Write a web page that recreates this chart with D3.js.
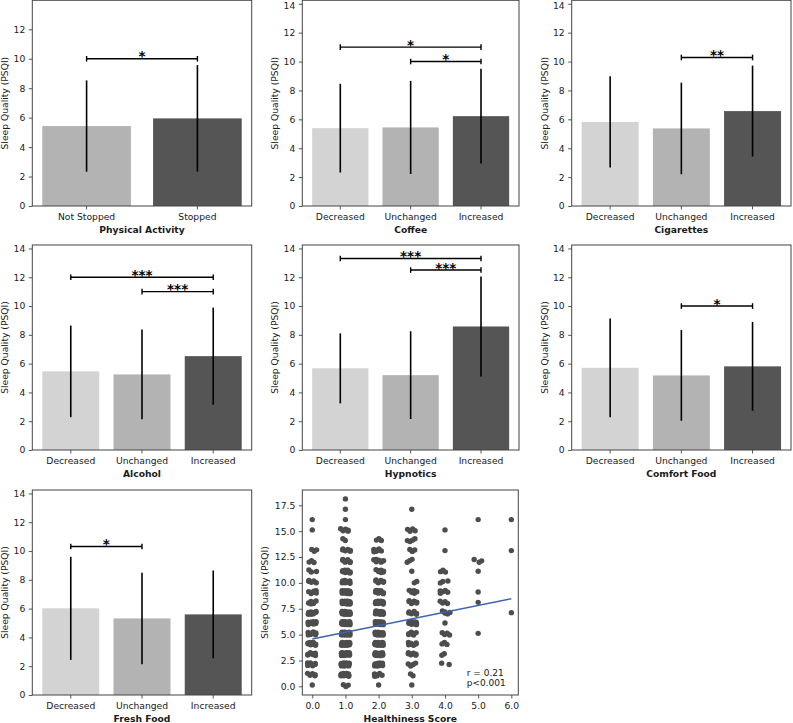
<!DOCTYPE html>
<html><head><meta charset="utf-8">
<script src="https://cdn.jsdelivr.net/npm/d3@7"></script>
<style>body{margin:0;background:#fff} text{font-family:"DejaVu Sans",sans-serif}</style>
</head><body><svg id="c" width="793" height="723"></svg>
<script>
// ---------- data ----------
const catsActivity = ["Not Stopped", "Stopped"];
const cats3 = ["Decreased", "Unchanged", "Increased"];

const meanActivity = [5.43, 5.95], sdActivity = [3.10, 3.62];
const meanCoffee = [5.39, 5.44, 6.22], sdCoffee = [3.07, 3.22, 3.28];
const meanCigarettes = [5.82, 5.37, 6.57], sdCigarettes = [3.16, 3.17, 3.15];
const meanAlcohol = [5.46, 5.25, 6.52], sdAlcohol = [3.18, 3.12, 3.37];
const meanHypnotics = [5.67, 5.20, 8.58], sdHypnotics = [2.43, 3.05, 3.47];
const meanComfort = [5.71, 5.18, 5.81], sdComfort = [3.43, 3.15, 3.09];
const meanFresh = [6.02, 5.32, 5.60], sdFresh = [3.58, 3.18, 3.05];

// significance brackets: [from index, to index, y value, label]
const sigActivity = [[0, 1, 10.0, "*"]];
const sigCoffee = [[0, 2, 11.0, "*"], [1, 2, 10.0, "*"]];
const sigCigarettes = [[1, 2, 10.28, "**"]];
const sigAlcohol = [[0, 2, 12.0, "***"], [1, 2, 11.0, "***"]];
const sigHypnotics = [[0, 2, 13.3, "***"], [1, 2, 12.5, "***"]];
const sigComfort = [[1, 2, 10.0, "*"]];
const sigFresh = [[0, 1, 10.32, "*"]];

const barTicks = [0, 2, 4, 6, 8, 10, 12, 14];

// scatter: number of participants per PSQI score (index = PSQI 0..18) for each healthiness score
const healthScores = [0, 1, 2, 3, 4, 5, 6];
const countsScore0 = [1, 5, 8, 8, 10, 9, 10, 10, 6, 6, 5, 3, 3, 3, 0, 1, 1, 0, 0];
const countsScore1 = [3, 12, 18, 20, 22, 22, 22, 20, 18, 15, 10, 10, 8, 6, 2, 5, 1, 1, 1];
const countsScore2 = [1, 6, 14, 16, 18, 18, 18, 16, 12, 10, 8, 7, 7, 7, 3, 0, 0, 0, 0];
const countsScore3 = [1, 2, 4, 6, 7, 7, 10, 7, 7, 6, 2, 1, 3, 3, 4, 4, 0, 1, 0];
const countsScore4 = [0, 0, 2, 2, 3, 4, 1, 5, 4, 5, 3, 3, 0, 1, 0, 1, 0, 0, 0];
const countsScore5 = [0, 0, 0, 0, 0, 1, 0, 0, 1, 1, 0, 1, 3, 0, 0, 0, 1, 0, 0];
const countsScore6 = [0, 0, 0, 0, 0, 0, 0, 1, 0, 0, 0, 0, 0, 1, 0, 0, 1, 0, 0];
const scatterYTicks = [0, 2.5, 5, 7.5, 10, 12.5, 15, 17.5];
const fitX = [0, 6], fitY = [4.57, 8.47];
const statLines = ["r = 0.21", "p<0.001"];

// ---------- layout ----------
const svg = d3.select("#c");
const colX = [[32.3, 251.7], [302.3, 519], [571.7, 791]];
const rowY = [[0.3, 206], [245, 450], [490, 695]];
const FS = 9.2;
const frameColor = "#444";
const textColor = "#1a1a1a";

function styleAxis(g) {
  g.select(".domain").remove();
  g.selectAll(".tick line").attr("stroke", frameColor).attr("stroke-width", 0.9);
  g.selectAll(".tick text").attr("fill", textColor).style("font-size", FS + "px")
    .style("font-family", "DejaVu Sans");
}

function frame(x0, x1, y0, y1, xlabel, ylabelX) {
  svg.append("rect").attr("x", x0).attr("y", y0).attr("width", x1 - x0).attr("height", y1 - y0)
    .attr("fill", "none").attr("stroke", frameColor).attr("stroke-width", 1);
  svg.append("text").attr("x", (x0 + x1) / 2).attr("y", y1 + 26.5).attr("text-anchor", "middle")
    .style("font-size", FS + "px").style("font-weight", "bold").attr("fill", textColor).text(xlabel);
  svg.append("text").attr("transform", `translate(${ylabelX},${(y0 + y1) / 2}) rotate(-90)`)
    .attr("dy", "0.33em").attr("text-anchor", "middle").style("font-size", FS + "px")
    .attr("fill", textColor).text("Sleep Quality (PSQI)");
}

function barPanel(col, row, cats, means, sds, sigs, xlabel, ymax, ylabelX) {
  const [x0, x1] = colX[col], [y0, y1] = rowY[row];
  const n = cats.length;
  const x = d3.scaleBand().domain(cats).range([x0, x1]).paddingInner(0.2).paddingOuter(0.05 * (n - 0.2));
  const y = d3.scaleLinear().domain([0, ymax]).range([y1, y0]);
  const colors = n === 2 ? ["#b3b3b3", "#555555"] : ["#d3d3d3", "#b3b3b3", "#555555"];
  const g = svg.append("g");
  g.selectAll("rect.bar").data(cats).join("rect").attr("class", "bar")
    .attr("x", d => x(d)).attr("width", x.bandwidth())
    .attr("y", (d, i) => y(means[i])).attr("height", (d, i) => y(0) - y(means[i]))
    .attr("fill", (d, i) => colors[i]);
  g.selectAll("line.err").data(cats).join("line").attr("class", "err")
    .attr("x1", d => x(d) + x.bandwidth() / 2).attr("x2", d => x(d) + x.bandwidth() / 2)
    .attr("y1", (d, i) => y(means[i] - sds[i])).attr("y2", (d, i) => y(means[i] + sds[i]))
    .attr("stroke", "#000").attr("stroke-width", 1.6);
  const cx = i => x(cats[i]) + x.bandwidth() / 2;
  sigs.forEach(([a, b, v, lab]) => {
    const yy = y(v);
    g.append("line").attr("x1", cx(a)).attr("x2", cx(b)).attr("y1", yy).attr("y2", yy)
      .attr("stroke", "#000").attr("stroke-width", 1.4);
    [a, b].forEach(i => g.append("line").attr("x1", cx(i)).attr("x2", cx(i))
      .attr("y1", yy - 2.8).attr("y2", yy + 2.8).attr("stroke", "#000").attr("stroke-width", 1.4));
    g.append("text").attr("x", (cx(a) + cx(b)) / 2).attr("y", yy + 2.6).attr("text-anchor", "middle")
      .style("font-size", "13.5px").style("font-weight", "bold").attr("fill", "#000").text(lab);
  });
  const ticks = barTicks.filter(t => t <= ymax);
  const ya = svg.append("g").attr("transform", `translate(${x0},0)`)
    .call(d3.axisLeft(y).tickValues(ticks).tickSize(3.5).tickPadding(3.5)).call(styleAxis);
  // keep the topmost label of the first row inside the page
  ya.selectAll(".tick text").filter(d => y(d) < 6).attr("dy", (0.32 + (6 - y(ticks[ticks.length - 1])) / FS * 0.6) + "em");
  svg.append("g").attr("transform", `translate(0,${y1})`)
    .call(d3.axisBottom(x).tickSize(3.5).tickPadding(4)).call(styleAxis);
  frame(x0, x1, y0, y1, xlabel, ylabelX);
}

barPanel(0, 0, catsActivity, meanActivity, sdActivity, sigActivity, "Physical Activity", 13.97, 5);
barPanel(1, 0, cats3, meanCoffee, sdCoffee, sigCoffee, "Coffee", 14.24, 275);
barPanel(2, 0, cats3, meanCigarettes, sdCigarettes, sigCigarettes, "Cigarettes", 14.24, 545);
barPanel(0, 1, cats3, meanAlcohol, sdAlcohol, sigAlcohol, "Alcohol", 14.24, 5);
barPanel(1, 1, cats3, meanHypnotics, sdHypnotics, sigHypnotics, "Hypnotics", 14.24, 275);
barPanel(2, 1, cats3, meanComfort, sdComfort, sigComfort, "Comfort Food", 14.24, 545);
barPanel(0, 2, cats3, meanFresh, sdFresh, sigFresh, "Fresh Food", 14.24, 5);

// ---------- scatter ----------
(function () {
  const [x0, x1] = [302.3, 518.3], [y0, y1] = rowY[2];
  const x = d3.scaleLinear().domain([-0.30, 6.21]).range([x0, x1]);
  const y = d3.scaleLinear().domain([-0.84, 18.98]).range([y1, y0]);
  const allCounts = [countsScore0, countsScore1, countsScore2, countsScore3, countsScore4, countsScore5, countsScore6];
  const pts = [];
  healthScores.forEach((s, si) => {
    allCounts[si].forEach((c, psqi) => {
      const k0 = si * 7 + psqi * 3;
      for (let k = 0; k < c; k++) {
        // deterministic low-discrepancy spread inside each cluster (visual jitter only)
        const kk = k === 0 && c === 1 ? 0 : k + k0;
        const fx = (0.5 + kk * 0.7548776662) % 1, fy = (0.5 + kk * 0.5698402910) % 1;
        pts.push({ s, psqi, dx: (fx - 0.5) * 0.3, dy: -0.04 + fy * 0.32 });
      }
    });
  });
  svg.append("g").selectAll("circle").data(pts).join("circle")
    .attr("cx", d => x(d.s + d.dx)).attr("cy", d => y(d.psqi + d.dy)).attr("r", 2.7)
    .attr("fill", "#4d4d4d");
  svg.append("line").attr("x1", x(fitX[0])).attr("y1", y(fitY[0])).attr("x2", x(fitX[1])).attr("y2", y(fitY[1]))
    .attr("stroke", "#3c64b1").attr("stroke-width", 1.4);
  statLines.forEach((t, i) => svg.append("text").attr("x", 466.7).attr("y", 676 + i * 9.8)
    .style("font-size", "9px").attr("fill", textColor).text(t));
  svg.append("g").attr("transform", `translate(${x0},0)`)
    .call(d3.axisLeft(y).tickValues(scatterYTicks).tickFormat(d3.format(".1f")).tickSize(3.5).tickPadding(3.5))
    .call(styleAxis);
  svg.append("g").attr("transform", `translate(0,${y1})`)
    .call(d3.axisBottom(x).tickValues(healthScores).tickFormat(d3.format(".1f")).tickSize(3.5).tickPadding(4))
    .call(styleAxis);
  frame(x0, x1, y0, y1, "Healthiness Score", 265);
})();
</script></body></html>
